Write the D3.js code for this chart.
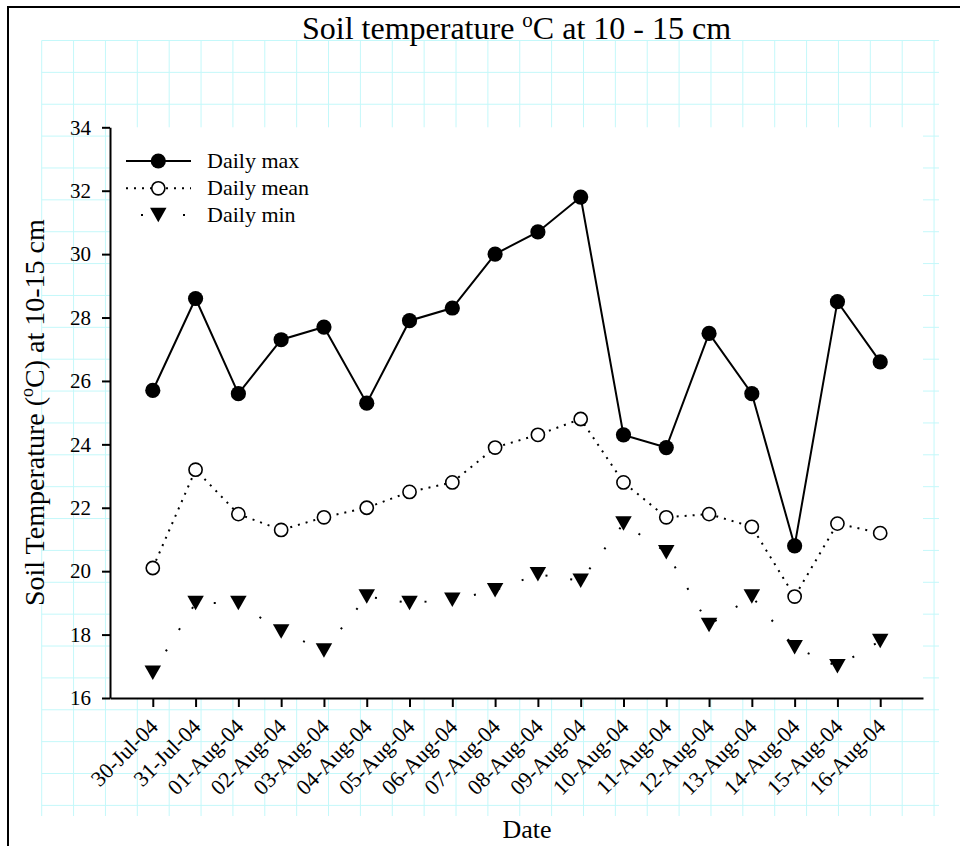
<!DOCTYPE html>
<html>
<head>
<meta charset="utf-8">
<script src="https://cdn.jsdelivr.net/npm/d3@7"></script>
<style>
    body { margin: 0; background: white; }
    svg text { font-family: "Liberation Serif", "Times New Roman", serif; fill: black; }
</style>
</head>
<body>
<svg id="soil_chart" width="960" height="846"></svg>
<script>
var dates = ["30-Jul-04", "31-Jul-04", "01-Aug-04", "02-Aug-04", "03-Aug-04", "04-Aug-04",
    "05-Aug-04", "06-Aug-04", "07-Aug-04", "08-Aug-04", "09-Aug-04", "10-Aug-04",
    "11-Aug-04", "12-Aug-04", "13-Aug-04", "14-Aug-04", "15-Aug-04", "16-Aug-04"];
var dailyMax = [25.7, 28.6, 25.6, 27.3, 27.7, 25.3, 27.9, 28.3, 30.0, 30.7, 31.8, 24.3, 23.9, 27.5, 25.6, 20.8, 28.5, 26.6];
var dailyMean = [20.1, 23.2, 21.8, 21.3, 21.7, 22.0, 22.5, 22.8, 23.9, 24.3, 24.8, 22.8, 21.7, 21.8, 21.4, 19.2, 21.5, 21.2];
var dailyMin = [16.8, 19.0, 19.0, 18.1, 17.5, 19.2, 19.0, 19.1, 19.4, 19.9, 19.7, 21.5, 20.6, 18.3, 19.2, 17.6, 17.0, 17.8];
var yTicks = [16, 18, 20, 22, 24, 26, 28, 30, 32, 34];
var seriesNames = ["Daily max", "Daily mean", "Daily min"];

var svg = d3.select("#soil_chart");
const plot = {left: 110, right: 923, top: 127.3, bottom: 698};

// graph paper background
const gridStep = 31.87;
const gridLeft = 41.7, gridTop = 40.5, gridRight = 939, gridBottom = 816;
var paper = svg.append("g").attr("id", "paper");
paper.selectAll("line.v")
    .data(d3.range(gridLeft, gridRight, gridStep)).enter()
    .append("line").classed("v", true)
    .attr("x1", d => d).attr("x2", d => d)
    .attr("y1", gridTop).attr("y2", gridBottom)
    .attr("stroke", "#c4f8fa").attr("stroke-width", 1);
paper.selectAll("line.h")
    .data(d3.range(gridTop, gridBottom, gridStep)).enter()
    .append("line").classed("h", true)
    .attr("x1", gridLeft).attr("x2", gridRight)
    .attr("y1", d => d).attr("y2", d => d)
    .attr("stroke", "#c4f8fa").attr("stroke-width", 1);

// outer frame
svg.append("rect")
    .attr("x", 8).attr("y", 7)
    .attr("width", 1000).attr("height", 900)
    .attr("fill", "none").attr("stroke", "black").attr("stroke-width", 2);

// white plot area
svg.append("rect")
    .attr("x", plot.left).attr("y", plot.top)
    .attr("width", plot.right - plot.left).attr("height", plot.bottom - plot.top + 1)
    .attr("fill", "white");

var xScale = d3.scalePoint()
    .domain(dates)
    .range([plot.left, plot.right])
    .padding(1);
var yScale = d3.scaleLinear()
    .domain([16, 34])
    .range([plot.bottom, plot.top]);

// axes
var yAxis = svg.append("g")
    .attr("transform", "translate(" + plot.left + ",0)")
    .call(d3.axisLeft(yScale).tickValues(yTicks).tickSize(8).tickSizeOuter(0).tickPadding(11));
var xAxis = svg.append("g")
    .attr("transform", "translate(0," + plot.bottom + ")")
    .call(d3.axisBottom(xScale).tickSize(9).tickSizeOuter(0));

svg.selectAll(".domain, .tick line").attr("stroke", "black").attr("stroke-width", 2);
yAxis.attr("font-family", null).attr("font-size", null);
xAxis.attr("font-family", null).attr("font-size", null);
yAxis.selectAll("text").style("font-size", "21px");
xAxis.selectAll("text")
    .style("font-size", "22px")
    .attr("text-anchor", "end")
    .attr("y", 0).attr("dy", 0)
    .attr("transform", "translate(6,30) rotate(-45)");

// titles
var title = svg.append("text")
    .attr("x", (plot.left + plot.right) / 2).attr("y", 39)
    .attr("text-anchor", "middle")
    .style("font-size", "32px");
title.append("tspan").text("Soil temperature ");
title.append("tspan").attr("dy", -12).style("font-size", "21px").text("o");
title.append("tspan").attr("dy", 12).text("C at 10 - 15 cm");

var yLabel = svg.append("text")
    .attr("transform", "translate(44," + (plot.top + plot.bottom) / 2 + ") rotate(-90)")
    .attr("text-anchor", "middle")
    .style("font-size", "28px");
yLabel.append("tspan").text("Soil Temperature (");
yLabel.append("tspan").attr("dy", -11).style("font-size", "18px").text("o");
yLabel.append("tspan").attr("dy", 11).text("C) at 10-15 cm");

svg.append("text")
    .attr("x", 527).attr("y", 838)
    .attr("text-anchor", "middle")
    .style("font-size", "26px")
    .text("Date");

// series
var lineGen = d3.line()
    .x((d, i) => xScale(dates[i]))
    .y(d => yScale(d));

const styles = [
    {dash: null, marker: "filled"},
    {dash: "2,6", marker: "open"},
    {dash: "2,23", marker: "triangle"}
];
var allSeries = [dailyMax, dailyMean, dailyMin];

var lines = svg.append("g").attr("id", "lines");
allSeries.forEach(function(values, s) {
    lines.append("path")
        .attr("d", lineGen(values))
        .attr("fill", "none")
        .attr("stroke", "black")
        .attr("stroke-width", 2)
        .attr("stroke-dasharray", styles[s].dash);
});

function drawMarker(parent, type, x, y) {
    if (type == "filled") {
        parent.append("circle").attr("cx", x).attr("cy", y).attr("r", 7.6).attr("fill", "black");
    } else if (type == "open") {
        parent.append("circle").attr("cx", x).attr("cy", y).attr("r", 6.6)
            .attr("fill", "white").attr("stroke", "black").attr("stroke-width", 1.6);
    } else {
        const w = 16.5, h = 14.5;
        parent.append("path")
            .attr("d", "M" + (x - w / 2) + "," + (y - h / 2) + "L" + (x + w / 2) + "," + (y - h / 2) + "L" + x + "," + (y + h / 2) + "Z")
            .attr("fill", "black");
    }
}

var markers = svg.append("g").attr("id", "markers");
allSeries.forEach(function(values, s) {
    values.forEach(function(v, i) {
        drawMarker(markers, styles[s].marker, xScale(dates[i]), yScale(v));
    });
});

// legend
const legendRows = [161, 188.3, 215];
const legendDash = [null, "2,6", "2,40"];
const legendOffset = [0, 0, -15];
var legend = svg.append("g").attr("id", "legend");
seriesNames.forEach(function(name, s) {
    legend.append("line")
        .attr("x1", 126).attr("x2", 191)
        .attr("y1", legendRows[s]).attr("y2", legendRows[s])
        .attr("stroke", "black").attr("stroke-width", 2)
        .attr("stroke-dasharray", legendDash[s])
        .attr("stroke-dashoffset", legendOffset[s]);
    drawMarker(legend, styles[s].marker, 158.3, legendRows[s]);
    legend.append("text")
        .attr("x", 207).attr("y", legendRows[s] + 7)
        .style("font-size", "22px")
        .text(name);
});
</script>
</body>
</html>
